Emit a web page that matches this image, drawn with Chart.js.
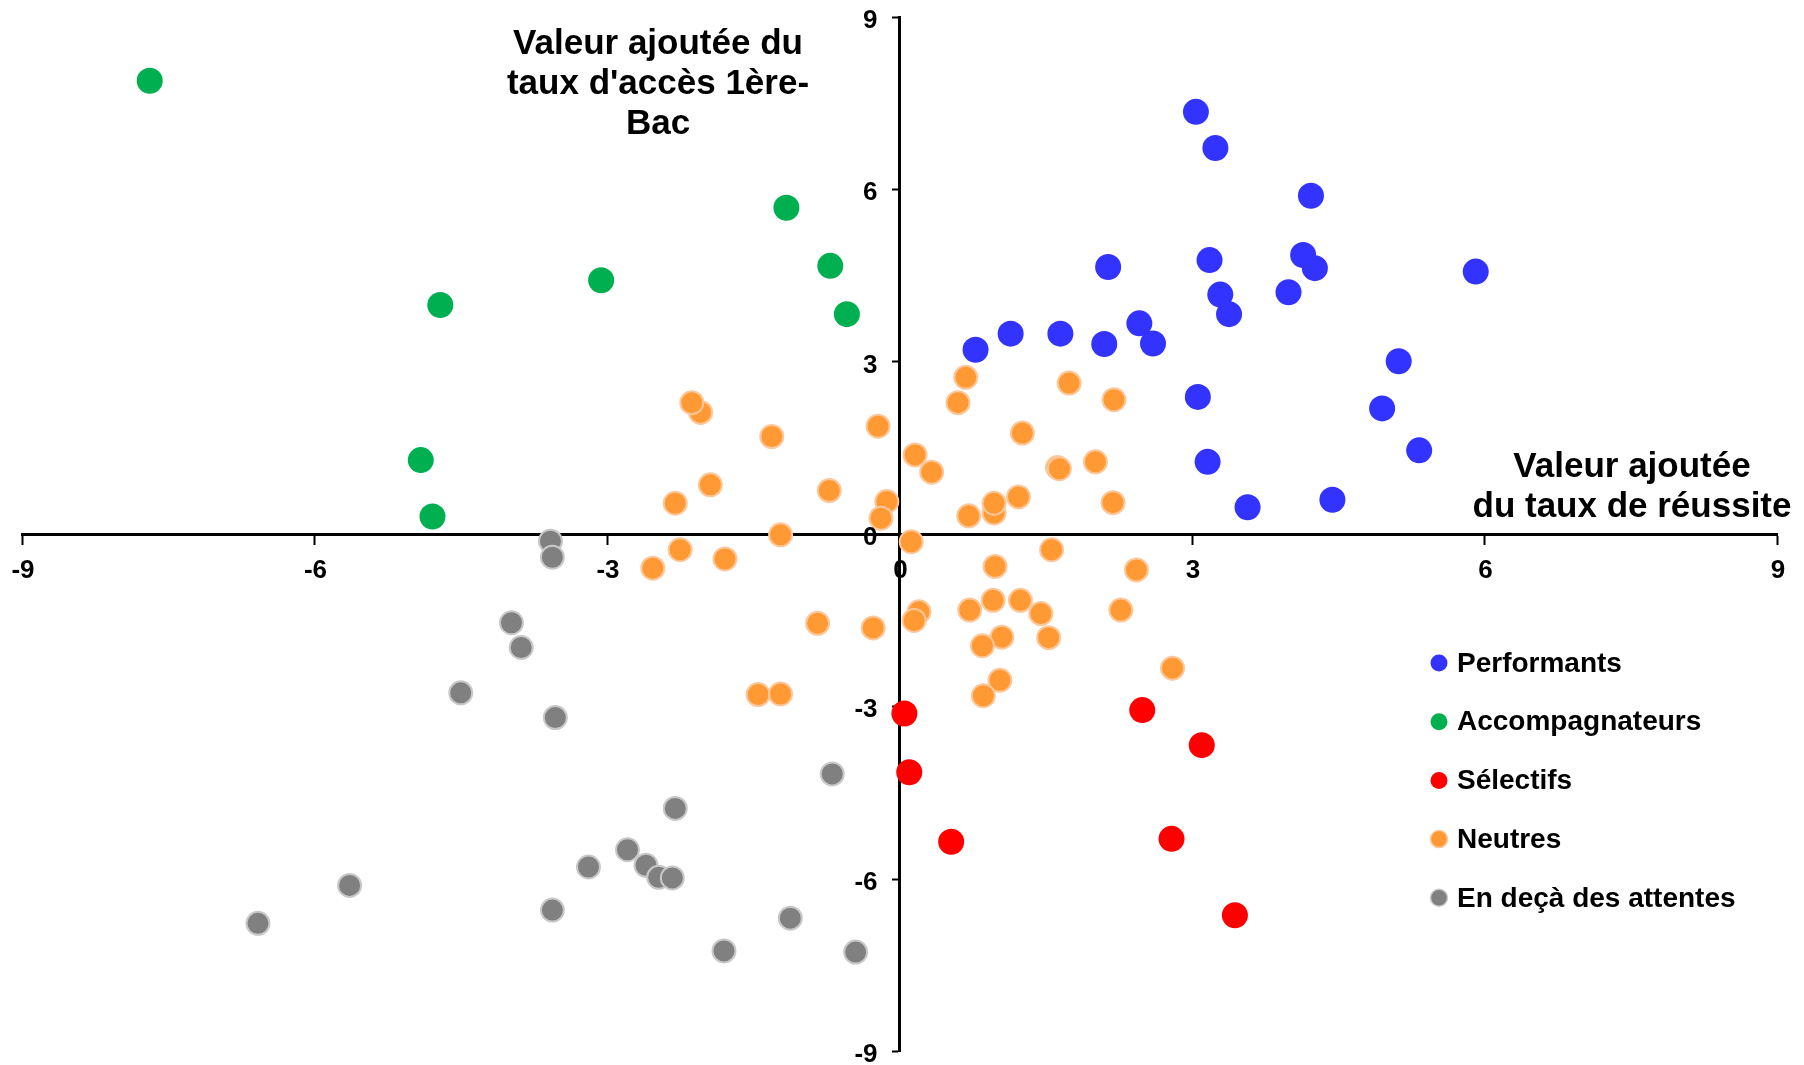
<!DOCTYPE html>
<html lang="fr">
<head>
<meta charset="utf-8">
<title>Valeur ajoutée</title>
<script src="https://cdn.jsdelivr.net/npm/chart.js@4/dist/chart.umd.min.js"></script>
<style>
  html, body { margin: 0; padding: 0; background: #fff; }
  #chart { display: block; }
</style>
</head>
<body>
<canvas id="chart" width="1804" height="1065"></canvas>
<script>
  // Tick values shared by both axes
  const tickValues = [-9, -6, -3, 0, 3, 6, 9];

  // Performants
  const performantsX = [3.04, 3.24, 4.22, 2.14, 3.18, 4.14, 4.26, 5.91, 3.29, 3.38, 3.99, 2.46, 2.60, 2.10, 1.65, 1.14, 0.78, 5.12, 3.06, 4.95, 5.33, 3.16, 4.44, 3.57];
  const performantsY = [7.35, 6.72, 5.89, 4.65, 4.77, 4.86, 4.63, 4.57, 4.17, 3.83, 4.21, 3.67, 3.32, 3.31, 3.49, 3.49, 3.21, 3.01, 2.39, 2.19, 1.46, 1.26, 0.60, 0.47];

  // Accompagnateurs
  const accompagnateursX = [-7.69, -1.16, -0.71, -3.06, -4.71, -0.54, -4.91, -4.79];
  const accompagnateursY = [7.89, 5.68, 4.67, 4.42, 3.99, 3.83, 1.29, 0.31];

  // Sélectifs
  const selectifsX = [0.05, 2.49, 3.10, 0.10, 0.53, 2.79, 3.44];
  const selectifsY = [-3.12, -3.06, -3.67, -4.14, -5.35, -5.30, -6.63];

  // Neutres
  const neutresX = [-2.04, -2.13, -1.31, -0.22, -1.94, -2.30, -0.72, -0.13, -0.19, -1.22, -2.25, -1.79, -2.53,
    0.68, 0.60, 1.74, 2.20, 1.26, 0.16, 0.33, 1.62, 1.64, 2.01, 0.71, 0.97, 0.97, 1.22, 2.19, 0.12, 1.56, 0.98, 2.43,
    -0.84, -0.27, -1.45, -1.22, 0.20, 0.15, 0.72, 0.96, 1.24, 1.45, 1.05, 0.85, 1.53, 2.27, 2.80, 1.03, 0.86];
  const neutresY = [2.12, 2.29, 1.70, 1.88, 0.86, 0.54, 0.76, 0.57, 0.28, -0.01, -0.27, -0.43, -0.59,
    2.73, 2.29, 2.63, 2.34, 1.76, 1.38, 1.08, 1.16, 1.14, 1.26, 0.32, 0.37, 0.54, 0.65, 0.55, -0.13, -0.27, -0.56, -0.62,
    -1.55, -1.63, -2.79, -2.78, -1.35, -1.50, -1.32, -1.15, -1.15, -1.38, -1.79, -1.94, -1.80, -1.32, -2.33, -2.54, -2.81];

  // En deçà des attentes
  const endecaX = [-3.58, -3.56, -3.98, -3.88, -4.50, -3.53, -0.69, -2.30, -2.79, -2.60, -3.19, -2.47, -2.33, -5.64, -6.58, -3.56, -1.12, -1.80, -0.45];
  const endecaY = [-0.12, -0.40, -1.54, -1.97, -2.76, -3.19, -4.17, -4.77, -5.49, -5.76, -5.79, -5.97, -5.98, -6.11, -6.77, -6.54, -6.68, -7.25, -7.27];

  const seriesLabels = ['Performants', 'Accompagnateurs', 'Sélectifs', 'Neutres', 'En deçà des attentes'];
  const xTitleLines = ['Valeur ajoutée', 'du taux de réussite'];
  const yTitleLines = ["Valeur ajoutée du", "taux d'accès 1ère-", 'Bac'];

  const FONT = "'Liberation Sans', Arial, sans-serif";

  function toPoints(xs, ys) {
    return xs.map((x, i) => ({ x: x, y: ys[i] }));
  }

  function makeDataset(label, xs, ys, fill, border, radius, borderWidth) {
    return {
      label: label,
      data: toPoints(xs, ys),
      backgroundColor: fill,
      borderColor: border,
      borderWidth: borderWidth,
      pointRadius: radius,
      pointHoverRadius: radius
    };
  }

  const datasets = [
    makeDataset(seriesLabels[0], performantsX, performantsY, '#3333FF', '#3333FF', 13, 0),
    makeDataset(seriesLabels[1], accompagnateursX, accompagnateursY, '#00B050', '#00B050', 13, 0),
    makeDataset(seriesLabels[2], selectifsX, selectifsY, '#FF0000', '#FF0000', 13, 0),
    makeDataset(seriesLabels[3], neutresX, neutresY, '#FF9933', '#FCC89B', 11.5, 2),
    makeDataset(seriesLabels[4], endecaX, endecaY, '#808080', '#C8C8C8', 11.5, 2)
  ];

  // tick labels, axis titles and legend drawn on top
  const overlayPlugin = {
    id: 'overlay',
    afterDraw(chart) {
      const ctx = chart.ctx;
      const xs = chart.scales.x;
      const ys = chart.scales.y;
      const x0 = xs.getPixelForValue(0);
      const y0 = ys.getPixelForValue(0);
      ctx.save();
      ctx.fillStyle = '#000';
      ctx.textBaseline = 'middle';

      // tick labels
      ctx.font = 'bold 26px ' + FONT;
      ctx.textAlign = 'center';
      tickValues.forEach(v => ctx.fillText(String(v), xs.getPixelForValue(v) + 1, y0 + 37));
      ctx.textAlign = 'right';
      tickValues.forEach(v => ctx.fillText(String(v), x0 - 22, ys.getPixelForValue(v) + 3.5));

      // axis titles
      ctx.font = 'bold 35px ' + FONT;
      ctx.textAlign = 'center';
      yTitleLines.forEach((line, i) => ctx.fillText(line, 658, 44 + i * 40));
      xTitleLines.forEach((line, i) => ctx.fillText(line, 1632, 467 + i * 40));

      // legend
      ctx.font = 'bold 28px ' + FONT;
      ctx.textAlign = 'left';
      chart.data.datasets.forEach((ds, i) => {
        const cy = 664 + i * 58.7;
        ctx.beginPath();
        ctx.arc(1439, cy - 1, 8.5, 0, Math.PI * 2);
        ctx.fillStyle = ds.backgroundColor;
        ctx.fill();
        if (ds.borderWidth > 0) {
          ctx.lineWidth = 1.5;
          ctx.strokeStyle = ds.borderColor;
          ctx.stroke();
        }
        ctx.fillStyle = '#000';
        ctx.fillText(ds.label, 1457, cy);
      });
      ctx.restore();
    }
  };

  function axisOptions(position, tickLength) {
    return {
      type: 'linear',
      min: -9,
      max: 9,
      position: position,
      afterBuildTicks: function (scale) {
        scale.ticks = tickValues.map(v => ({ value: v }));
      },
      ticks: { display: false },
      grid: {
        drawOnChartArea: false,
        drawTicks: true,
        tickLength: tickLength,
        tickColor: '#000',
        tickWidth: 2
      },
      border: { display: true, color: '#000', width: 3 }
    };
  }

  const ctx = document.getElementById('chart').getContext('2d');
  new Chart(ctx, {
    type: 'scatter',
    data: { datasets: datasets },
    options: {
      responsive: false,
      animation: false,
      devicePixelRatio: 1,
      layout: { padding: { left: 22, right: 27, top: 17, bottom: 13 } },
      scales: {
        x: axisOptions({ y: 0 }, 9),
        y: axisOptions({ x: 0 }, 6)
      },
      plugins: {
        legend: { display: false },
        tooltip: { enabled: false }
      }
    },
    plugins: [overlayPlugin]
  });
</script>
</body>
</html>
